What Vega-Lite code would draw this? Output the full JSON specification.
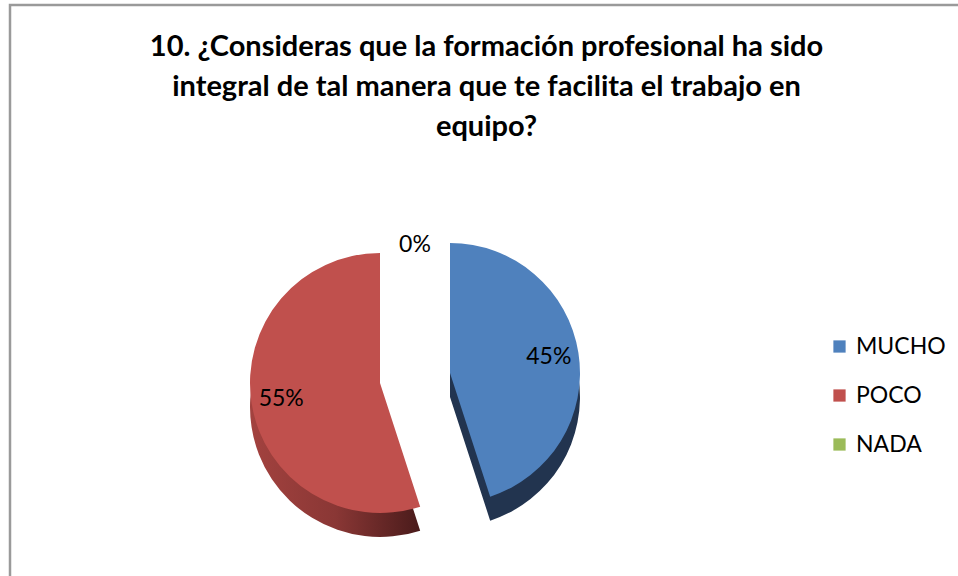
{
  "$schema": "https://vega.github.io/schema/vega-lite/v6.json",
  "width": 953,
  "height": 576,
  "autosize": {"type": "none"},
  "padding": {"left": 10, "top": 5, "right": -5, "bottom": -5},
  "background": "white",
  "view": {"stroke": "#9A9A9A", "strokeWidth": 2.5, "fill": "white"},
  "config": {"font": "Lato"},
  "title": {
    "text": ["10. ¿Consideras que la formación profesional ha sido", "integral de tal manera que te facilita el trabajo en", "equipo?"],
    "font": "Lato",
    "fontSize": 29,
    "fontWeight": "bold",
    "lineHeight": 40,
    "color": "black",
    "anchor": "middle",
    "frame": "group",
    "offset": -137
  },
  "data": {
    "values": [
      {"cat": "MUCHO", "share": 0.45, "idx": 1},
      {"cat": "POCO", "share": 0.55, "idx": 2},
      {"cat": "NADA", "share": 0.0, "idx": 3}
    ]
  },
  "transform": [
    {"stack": "share", "groupby": [], "sort": [{"field": "idx", "order": "ascending"}], "as": ["t0", "t1"]}
  ],
  "layer": [
    {
      "transform": [{"filter": "datum.cat === 'MUCHO'"}],
      "mark": {"type": "arc", "outerRadius": 130, "xOffset": -36.5, "yOffset": 104, "color": "#22344F"},
      "encoding": {
        "theta": {"field": "t0", "type": "quantitative", "scale": {"domain": [0, 1]}},
        "theta2": {"field": "t1"}
      }
    },
    {
      "transform": [{"filter": "datum.cat === 'POCO'"}],
      "mark": {"type": "arc", "outerRadius": 130, "xOffset": -106.5, "yOffset": 114,
        "color": {"gradient": "linear", "x1": 0, "x2": 1, "y1": 0, "y2": 0,
          "stops": [{"offset": 0, "color": "#A3423F"}, {"offset": 0.5, "color": "#8A3735"}, {"offset": 1, "color": "#4A1B1B"}]}},
      "encoding": {
        "theta": {"field": "t0", "type": "quantitative", "scale": {"domain": [0, 1]}},
        "theta2": {"field": "t1"}
      }
    },
    {
      "transform": [{"filter": "datum.cat === 'MUCHO'"}],
      "mark": {"type": "arc", "outerRadius": 130, "xOffset": -36.5, "yOffset": 80},
      "encoding": {
        "theta": {"field": "t0", "type": "quantitative", "scale": {"domain": [0, 1]}},
        "theta2": {"field": "t1"},
        "color": {"field": "cat", "type": "nominal",
          "scale": {"domain": ["MUCHO", "POCO", "NADA"], "range": ["#4F81BD", "#C0504D", "#9BBB59"]},
          "legend": {"title": null, "orient": "none", "legendX": 818, "legendY": 330,
            "symbolType": "square", "symbolSize": 150, "symbolStrokeWidth": 0,
            "labelFont": "Lato", "labelFontSize": 23, "labelColor": "black",
            "rowPadding": 25, "labelOffset": 5}}
      }
    },
    {
      "transform": [{"filter": "datum.cat === 'POCO'"}],
      "mark": {"type": "arc", "outerRadius": 130, "xOffset": -106.5, "yOffset": 90},
      "encoding": {
        "theta": {"field": "t0", "type": "quantitative", "scale": {"domain": [0, 1]}},
        "theta2": {"field": "t1"},
        "color": {"field": "cat", "type": "nominal"}
      }
    },
    {
      "mark": {"type": "text", "radius": 100, "xOffset": -36.5, "yOffset": 80, "fontSize": 23, "font": "Lato", "color": "black"},
      "encoding": {
        "theta": {"field": "share", "type": "quantitative", "stack": true, "scale": {"domain": [0, 1]}},
        "order": {"field": "idx"},
        "detail": {"field": "cat"},
        "text": {"condition": {"test": "datum.cat === 'MUCHO'", "field": "share", "type": "quantitative", "format": ".0%"}, "value": ""}
      }
    },
    {
      "mark": {"type": "text", "radius": 100, "xOffset": -106.5, "yOffset": 90, "fontSize": 23, "font": "Lato", "color": "black"},
      "encoding": {
        "theta": {"field": "share", "type": "quantitative", "stack": true, "scale": {"domain": [0, 1]}},
        "order": {"field": "idx"},
        "detail": {"field": "cat"},
        "text": {"condition": {"test": "datum.cat === 'POCO'", "field": "share", "type": "quantitative", "format": ".0%"}, "value": ""}
      }
    },
    {
      "mark": {"type": "text", "radius": 133, "xOffset": -71.5, "yOffset": 85, "fontSize": 23, "font": "Lato", "color": "black"},
      "encoding": {
        "theta": {"field": "share", "type": "quantitative", "stack": true, "scale": {"domain": [0, 1]}},
        "order": {"field": "idx"},
        "detail": {"field": "cat"},
        "text": {"condition": {"test": "datum.cat === 'NADA'", "field": "share", "type": "quantitative", "format": ".0%"}, "value": ""}
      }
    }
  ]
}
